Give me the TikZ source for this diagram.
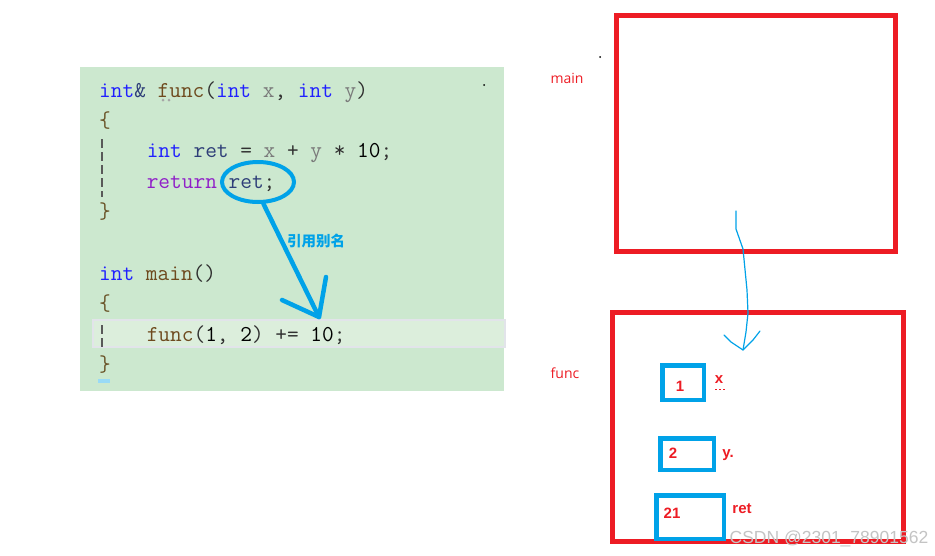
\documentclass[tikz,border=0pt]{standalone}
\usepackage{fontspec}
\newfontfamily\cjk{Noto Sans CJK SC}
\newfontfamily\lblfont{Open Sans}
\newfontfamily\valfont{Liberation Sans}
\newfontfamily\wmfont{Liberation Sans}
\usetikzlibrary{shapes.geometric}
\definecolor{codebg}{HTML}{CCE8CF}
\definecolor{hlfill}{HTML}{DCEEDC}
\definecolor{hlborder}{HTML}{E2E4EA}
\definecolor{kwblue}{HTML}{2020FF}
\definecolor{fnbrown}{HTML}{6E4A1E}
\definecolor{vargray}{HTML}{7A7A7A}
\definecolor{retnavy}{HTML}{2E3E78}
\definecolor{kwpurple}{HTML}{9020C8}
\definecolor{punct}{HTML}{303030}
\definecolor{bracebrown}{HTML}{6A5428}
\definecolor{paintblue}{HTML}{00A2E8}
\definecolor{paintred}{HTML}{ED1C24}
\definecolor{wmgray}{HTML}{C4C4C4}
\newcommand\ckw[1]{\textcolor{kwblue}{#1}}
\newcommand\cfn[1]{\textcolor{fnbrown}{#1}}
\newcommand\cva[1]{\textcolor{vargray}{#1}}
\newcommand\cpu[1]{\textcolor{punct}{#1}}
\tikzset{
  codeline/.style={anchor=base west, inner sep=0pt, font=\ttfamily\fontsize{22.7}{27}\selectfont},
  redframe/.style={draw=paintred, line width=5pt, minimum width=#1, inner sep=0pt},
  bluebox/.style={draw=paintblue, line width=4.5pt, inner sep=0pt},
  bluepen/.style={draw=paintblue, line width=4.5pt, line cap=round, line join=round},
  thinpen/.style={draw=paintblue, line width=1.2pt, line cap=round, line join=round},
  redlbl/.style={text=paintred, inner sep=0pt, font=\lblfont\fontsize{14}{16}\selectfont},
  redval/.style={text=paintred, inner sep=0pt, font=\valfont\bfseries\fontsize{15}{17}\selectfont},
  guide/.style={draw=black!65, line width=2pt, dash pattern=on 9pt off 4pt}
}
\begin{document}
\begin{tikzpicture}[x=1pt,y=-1pt]
\useasboundingbox (0,0) rectangle (935,555);
\fill[white] (0,0) rectangle (935,555);
% code panel
\fill[codebg] (80,67) rectangle (504,391);
\filldraw[fill=hlfill, draw=hlborder, line width=2pt] (93,320) rectangle (505,347);
\draw[guide] (102,139) -- (102,197);
\draw[guide] (102,325) -- (102,349);
\fill[black!35] (163,100) circle (1.5pt) (169,100) circle (1.5pt);
\fill[paintblue!40] (98,379) rectangle (110,383);
\fill[black] (484,85) circle (1pt);
\node[codeline] (l1) at (99,97) {\ckw{int}\textcolor{retnavy}{\&} \cfn{func}\cpu{(}\ckw{int} \cva{x}\cpu{,} \ckw{int} \cva{y}\cpu{)}};
\node[codeline] (l2) at (99,127) {\textcolor{bracebrown}{\{}};
\node[codeline] (l3) at (146.6,157) {\ckw{int} \textcolor{retnavy}{ret} \cpu{=} \cva{x} \cpu{+} \cva{y} \cpu{*} \textcolor{black}{10}\cpu{;}};
\node[codeline] (l4) at (146.6,188) {\textcolor{kwpurple}{return} \textcolor{retnavy}{ret}\cpu{;}};
\node[codeline] (l5) at (99,218) {\textcolor{bracebrown}{\}}};
\node[codeline] (l6) at (99,280) {\ckw{int} \cfn{main}\cpu{()}};
\node[codeline] (l7) at (99,310) {\textcolor{bracebrown}{\{}};
\node[codeline] (l8) at (146.6,341) {\cfn{func}\cpu{(}\textcolor{black}{1}\cpu{,} \textcolor{black}{2}\cpu{)} \cpu{+=} \textcolor{black}{10}\cpu{;}};
\node[codeline] (l9) at (99,371) {\textcolor{bracebrown}{\}}};
% annotation
\node[draw=paintblue, line width=4pt, ellipse, minimum width=72, minimum height=40, inner sep=0pt] (retc) at (258,182) {};
\coordinate (tip) at (319,317);
\coordinate (barbl) at (282,300);
\coordinate (barbr) at (326,277);
\draw[bluepen] (retc.-76) -- (tip);
\draw[bluepen] (barbl) -- (tip) -- (barbr);
\node[text=paintblue, inner sep=0pt, font=\cjk\bfseries\fontsize{14.5}{16}\selectfont] (alias) at (316,241) {引用别名};
% right side
\fill[black] (600,57) circle (1pt);
\node[redlbl] (mainlbl) at (567,78) {main};
\node[redframe=279, minimum height=236] (mainframe) at (756,133.5) {};
\node[redlbl] (funclbl) at (565,373) {func};
\node[redframe=291, minimum height=229] (funcframe) at (758,427) {};
\coordinate (fa) at (736,211);
\coordinate (fb) at (736,229);
\coordinate (fc) at (743,249);
\coordinate (fd) at (747,290);
\coordinate (fe) at (748,313);
\coordinate (ftip) at (743,350);
\coordinate (fbl) at (724,335);
\coordinate (fbr) at (760,331);
\draw[thinpen] (fa) -- (fb) -- (fc) -- (fd) -- (fe) -- (746,332) -- (ftip);
\draw[thinpen] (fbl) -- (731,342) -- (ftip) -- (753,340) -- (fbr);
\node[bluebox, minimum width=41.5, minimum height=34.5] (boxx) at (683,382.5) {};
\node[bluebox, minimum width=53.5, minimum height=31.5] (boxy) at (687,454) {};
\node[bluebox, minimum width=67.5, minimum height=43.5] (boxret) at (690,517) {};
\node[redval] (v1) at (680,386) {1};
\node[redval] (v2) at (673,453) {2};
\node[redval] (v21) at (672,513) {21};
\node[redval] (lx) at (719,380) {x};
\draw[paintred, line width=1.2pt, dash pattern=on 2pt off 2pt] (715,389.5) -- (725,389.5);
\node[redval] (ly) at (728,455) {y.};
\node[redval] (lret) at (742,509) {ret};
\node[text=wmgray, inner sep=0pt, font=\wmfont\fontsize{17.5}{19}\selectfont] (wm) at (829,539) {CSDN @2301\_78901562};
\end{tikzpicture}
\end{document}
